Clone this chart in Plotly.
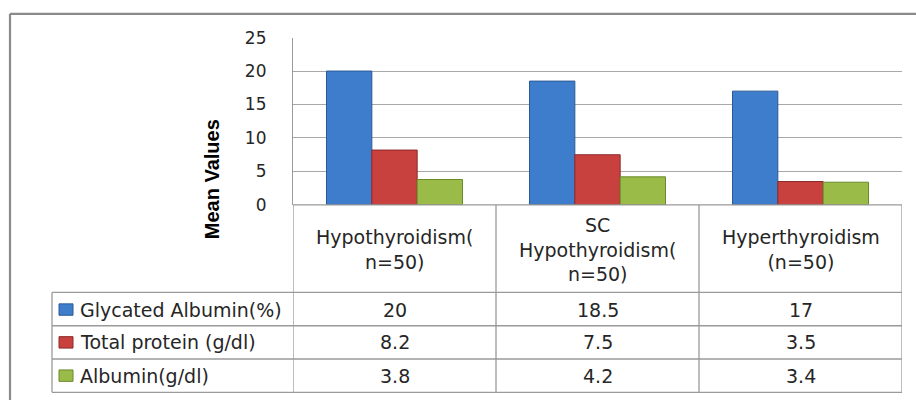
import plotly.graph_objects as go

categories = ["Hypothyroidism(<br>n=50)", "SC<br>Hypothyroidism(<br>n=50)", "Hyperthyroidism<br>(n=50)"]
series_names = ["Glycated Albumin(%)", "Total protein (g/dl)", "Albumin(g/dl)"]
glycated = [20, 18.5, 17]
total_protein = [8.2, 7.5, 3.5]
albumin = [3.8, 4.2, 3.4]
value_labels = [["20", "18.5", "17"], ["8.2", "7.5", "3.5"], ["3.8", "4.2", "3.4"]]
y_ticks = [0, 5, 10, 15, 20, 25]

W, H = 916, 408
FONT = "DejaVu Sans"
TXT = "#262626"
GRID = "#a8a8a8"
TAB = "#9a9a9a"
colors = ["#3e7dcc", "#c8413e", "#9abb47"]
edges = ["#2a5a96", "#8c2b29", "#6a8a2c"]

def px(x):
    return x / W

def py(y):
    return 1 - y / H

xs = list(range(len(categories)))
fig = go.Figure()
for name, vals, c, e in zip(series_names, [glycated, total_protein, albumin], colors, edges):
    fig.add_trace(go.Bar(x=xs, y=vals, name=name, marker=dict(color=c, line=dict(color=e, width=1)),
                         showlegend=False, hoverinfo="skip"))

fig.update_layout(
    width=W, height=H, margin=dict(l=0, r=0, t=0, b=0),
    paper_bgcolor="white", plot_bgcolor="white",
    barmode="group", bargap=0.33, bargroupgap=0,
    font=dict(family=FONT, color=TXT),
    xaxis=dict(domain=[px(293), px(902)], range=[-0.5, 2.5], showticklabels=False, showgrid=False,
               zeroline=False, showline=False, ticks=""),
    yaxis=dict(domain=[py(205), py(29)], range=[0, 25], tickvals=y_ticks, showgrid=True, gridcolor=GRID,
               gridwidth=1.2, zeroline=False, showline=True, linecolor=TAB, linewidth=1.2, ticks="",
               ticklabelstandoff=22, tickfont=dict(size=17, color=TXT)),
)

shapes = []
def line(x0, y0, x1, y1, xref="paper", color=TAB, width=1.3):
    shapes.append(dict(type="line", xref=xref, yref="paper", x0=x0, y0=y0, x1=x1, y1=y1,
                       line=dict(color=color, width=width)))

# outer frame
line(px(10), py(4), px(10), py(410), color="#8a8a8a", width=2.2)
line(px(10), py(4), px(916), py(4), color="#8a8a8a", width=2.2)

# table
row_lines = [205, 297, 332, 367, 402]
line(px(293), py(205), px(902), py(205))
for yy in row_lines[1:]:
    line(px(52), py(yy), px(902), py(yy))
line(px(52), py(297), px(52), py(402))
for b in [-0.5, 0.5, 1.5, 2.5]:
    line(b, py(205), b, py(402), xref="x")

# legend keys
row_centers = [315, 349.5, 384.5]
for rc, c, e in zip(row_centers, colors, edges):
    shapes.append(dict(type="rect", xref="paper", yref="paper", x0=px(59), x1=px(73),
                       y0=py(rc + 6), y1=py(rc - 6), fillcolor=c, line=dict(color=e, width=1)))

annotations = []
for i, cat in enumerate(categories):
    annotations.append(dict(x=i, y=py(252), xref="x", yref="paper", text=cat, showarrow=False,
                            font=dict(size=19, color=TXT), align="center", xanchor="center", yanchor="middle"))
for r, (name, rc) in enumerate(zip(series_names, row_centers)):
    annotations.append(dict(x=px(78), y=py(rc), xref="paper", yref="paper", text=name, showarrow=False,
                            font=dict(size=19, color=TXT), xanchor="left", yanchor="middle"))
    for i in xs:
        annotations.append(dict(x=i, y=py(rc), xref="x", yref="paper", text=value_labels[r][i],
                                showarrow=False, font=dict(size=19, color=TXT), xanchor="center", yanchor="middle"))

annotations.append(dict(x=px(212), y=py(178), xref="paper", yref="paper", text="<b>Mean Values</b>",
                        textangle=-90, showarrow=False,
                        font=dict(size=20, color="#000", family="Liberation Sans Narrow, Liberation Sans"),
                        xanchor="center", yanchor="middle"))

fig.update_layout(shapes=shapes, annotations=annotations)
fig.write_html("out.html", config={"displayModeBar": False},
               post_script="document.body.style.margin='0';document.body.style.overflow='hidden';")
